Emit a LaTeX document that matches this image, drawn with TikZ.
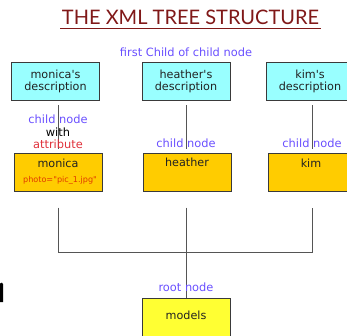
\documentclass[tikz,border=0pt]{standalone}
\usepackage{fontspec}
\setmainfont{DejaVu Sans}[Ligatures=TeXOff]
\newfontfamily\titlefont{Lato}
\definecolor{titlered}{HTML}{801818}
\definecolor{lblue}{HTML}{6A50FF}
\definecolor{lred}{HTML}{E0303A}
\definecolor{photored}{HTML}{E03A00}
\definecolor{cyanbox}{HTML}{99FFFF}
\definecolor{orangebox}{HTML}{FFCC00}
\definecolor{yellowbox}{HTML}{FFFF33}
\definecolor{boxline}{HTML}{3A3A3A}
\definecolor{linkgray}{HTML}{555555}
\definecolor{boxtextcol}{HTML}{222222}
\tikzset{
  box/.style={draw=boxline, line width=1pt, minimum width=88pt, minimum height=38pt, inner sep=0pt},
  descbox/.style={box, fill=cyanbox, align=center, text=boxtextcol, font=\fontsize{11.2}{12}\selectfont},
  childbox/.style={box, fill=orangebox},
  rootbox/.style={box, fill=yellowbox},
  boxtext/.style={inner sep=0pt, anchor=base, text=boxtextcol, font=\fontsize{11.2}{12}\selectfont},
  lbl/.style={inner sep=0pt, anchor=base, text=lblue, font=\fontsize{11.4}{12}\selectfont},
  link/.style={draw=linkgray, line width=0.9pt},
}
\begin{document}
\begin{tikzpicture}[x=1pt,y=-1pt]
\useasboundingbox (0,0) rectangle (347,335);
\clip (0,0) rectangle (347,335);
% title
\node[inner sep=0pt, text=titlered, font=\titlefont\fontsize{20}{22}\selectfont] (title) at (190.5,17.5) {THE XML TREE STRUCTURE};
\draw[titlered, line width=1.3pt] (60,28.5) coordinate (ul1) -- (321,28.5) coordinate (ul2);
\node[lbl] (first) at (186,56.7) {first Child of child node};
% top boxes
\node[descbox] (md) at (55.5,81) {monica's\\description};
\node[descbox] (hd) at (186,81) {heather's\\description};
\node[descbox] (kd) at (310,81) {kim's\\description};
% child boxes
\node[childbox] (m) at (58,172) {};
\node[childbox] (h) at (187,172) {};
\node[childbox] (k) at (312,172.5) {};
\node[boxtext] (mt) at (58,167.3) {monica};
\node[inner sep=0pt, anchor=base, text=photored, font=\fontsize{8.1}{9}\selectfont] (mp) at (60,182.3) {photo="pic\_1.jpg"};
\node[boxtext] (ht) at (187,166.7) {heather};
\node[boxtext] (kt) at (311,167.3) {kim};
% root
\node[rootbox] (r) at (186,317) {};
\node[boxtext] (rt) at (186,319.3) {models};
% top connectors
\draw[link, shorten <=4pt, shorten >=4pt] (m.north) -- (m.north |- md.south);
\draw[link, shorten <=4pt, shorten >=4pt] ([xshift=-1pt]h.north) -- ([xshift=-1pt]h.north |- hd.south);
\draw[link, shorten <=4pt, shorten >=4pt] (k.north) -- (k.north |- kd.south);
% bottom connectors
\coordinate (J) at (186,252);
\draw[link] ([yshift=-16pt]m.south) -- (m.south |- J) -- (k.south |- J) -- ([yshift=-16pt]k.south);
\draw[link] ([yshift=-16pt]h.south -| r.north) -- (r.north);
% labels
\node[lbl] (l1) at (58,123.3) {child node};
\node[inner sep=0pt, anchor=base, font=\fontsize{11.4}{12}\selectfont] (l1w) at (58,136.5) {with};
\node[inner sep=0pt, anchor=base, text=lred, font=\fontsize{11.4}{12}\selectfont] (l1a) at (58,148.5) {attribute};
\node[lbl] (l2) at (186,147.3) {child node};
\node[lbl] (l3) at (312,147.3) {child node};
\node[lbl] (l4) at (186,291.7) {root node};
% fragment at left edge
\fill[black] (0,283.5) .. controls (1.5,281.8) and (2.6,282.3) .. (3.2,284.5) -- (3.2,302) -- (0,302) -- cycle;
\end{tikzpicture}
\end{document}
